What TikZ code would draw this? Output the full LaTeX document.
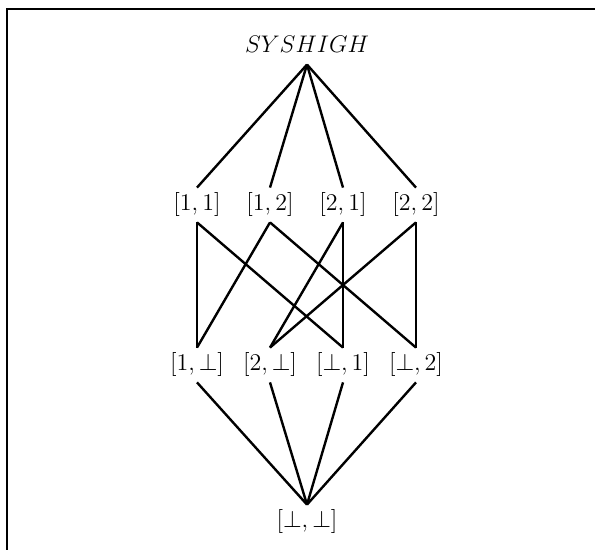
\documentclass[tikz,border=0pt]{standalone}
\usetikzlibrary{positioning}
\tikzset{
  elem/.style={inner sep=2.5pt, font=\large},
  topelem/.style={inner xsep=3pt, inner ysep=6pt, font=\large},
  link/.style={line width=1.2pt},
  frame/.style={line width=1.2pt}
}
\begin{document}
\begin{tikzpicture}[x=0.5pt, y=-0.5pt, node distance=80pt and 36.5pt, on grid]
  \useasboundingbox (0,0) rectangle (595,550);
  % scanned frame, top and left sides only
  \draw[frame] (7,550) -- (7,9) -- (595,9);

  \node[topelem] (high) at (307,44) {$SYSHIGH$};

  \node[elem] (h11) at (197,205) {$[1,1]$};
  \node[elem, right=of h11] (h12) {$[1,2]$};
  \node[elem, right=of h12] (h21) {$[2,1]$};
  \node[elem, right=of h21] (h22) {$[2,2]$};

  \node[elem, below=of h11] (l1b) {$[1,\bot]$};
  \node[elem, right=of l1b] (l2b) {$[2,\bot]$};
  \node[elem, right=of l2b] (lb1) {$[\bot,1]$};
  \node[elem, right=of lb1] (lb2) {$[\bot,2]$};

  \node[elem] (bot) at (307,522) {$[\bot,\bot]$};

  \foreach \n in {h11,h12,h21,h22}
    \draw[link] (high.south) -- (\n.north);
  \foreach \a/\b in {h11/l1b, h11/lb1, h12/l1b, h12/lb2,
                     h21/l2b, h21/lb1, h22/l2b, h22/lb2}
    \draw[link] (\a.south) -- (\b.north);
  \foreach \n in {l1b,l2b,lb1,lb2}
    \draw[link] (\n.south) -- (bot.north);
\end{tikzpicture}
\end{document}
